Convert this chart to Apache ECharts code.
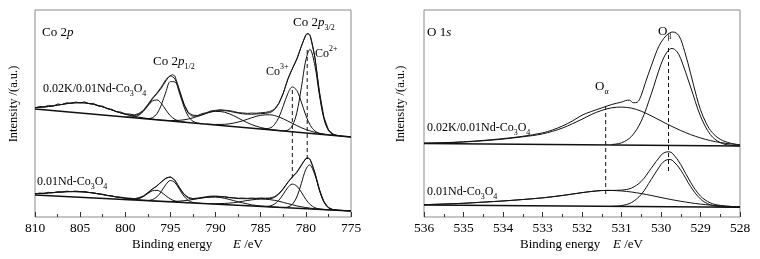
<!DOCTYPE html>
<html><head><meta charset="utf-8">
<script src="https://cdn.jsdelivr.net/npm/echarts@6/dist/echarts.min.js"></script>
<style>html,body{margin:0;padding:0;background:#fff}#c{width:760px;height:259px}</style>
</head><body><div id="c"></div>
<script>
// ---------- Co 2p panel : x ticks ----------
const coTicks = [810, 805, 800, 795, 790, 785, 780, 775];
const oTicks = [536, 535, 534, 533, 532, 531, 530, 529, 528];

// top spectrum 0.02K/0.01Nd-Co3O4 (Co 2p)
const coTopBg = [[810,108],[775,80]];
const coTopRaw = [[810,109.0],[809.5,110.6],[809,110.2],[808.5,111.6],[808,110.9],[807.5,113.0],[807,112.4],[806.5,114.3],[806,113.6],[805.5,115.0],[805,114.0],[804.5,115.2],[804,113.2],[803.5,113.6],[803,110.9],[802.5,111.0],[802,108.2],[801.5,107.8],[801,105.3],[800.5,105.0],[800,103.2],[799.5,103.0],[799,102.1],[798.5,103.6],[798,106.6],[797.5,112.5],[797,118.8],[796.5,124.0],[796,130.2],[795.5,137.5],[795,141.5],[794.75,142.3],[794.5,141.0],[794,127.0],[793.5,113.0],[793,104.2],[792.5,101.8],[792,101.5],[791.5,103.4],[791,104.4],[790.5,106.1],[790,106.6],[789.5,107.4],[789,106.8],[788.5,106.4],[788,105.6],[787.5,104.4],[787,104.1],[786.5,103.6],[786,103.9],[785.5,103.8],[785,104.3],[784.5,104.6],[784,105.5],[783.5,107.6],[783,113.6],[782.5,124],[782,137.9],[781.5,148.4],[781,158.2],[780.5,170.8],[780,182.3],[779.75,183.6],[779.5,180.9],[779,159.8],[778.5,125.4],[778,99.9],[777.5,87.4],[777,82.9],[776.5,81.6],[776,80.9],[775.5,80.6],[775,80.2]];
const coTopFit = [[810,109.4],[809,110.0],[808,111.1],[807,112.6],[806,113.9],[805,114.3],[804,113.5],[803,111.5],[802,108.6],[801,105.5],[800,102.8],[799,101.6],[798.5,102.8],[798,106.3],[797.5,111.9],[797,118],[796.5,123.3],[796,129],[795.5,136.1],[795,141.1],[794.5,137.9],[794,126.1],[793.5,112.7],[793,104],[792.5,100.9],[792,101],[791,103.9],[790,106.2],[789,106.3],[788,104.8],[787,103.2],[786,102.8],[785,103.3],[784,104.4],[783.5,107.2],[783,113.4],[782.5,123.8],[782,137.6],[781.5,148.2],[781,157.8],[780.5,170.4],[780,182],[779.75,183.3],[779.5,180.6],[779,159.2],[778.5,124.8],[778,99.4],[777.5,87],[777,82.8],[776,80.8],[775,80]];
const coTopSatA = [[810,109.4],[809,110.0],[808,111.1],[807,112.6],[806,113.9],[805,114.3],[804,113.5],[803,111.5],[802,108.6],[801,105.5],[800,102.8],[799,100.6],[798,99.1],[797,97.9],[796,96.9]];
const coTopP12b = [[800,100],[799,100.2],[798.5,101.8],[798,105.6],[797.5,111.1],[797,116],[796.5,117.1],[796,113.4],[795.5,107],[795,101.2],[794.5,97.6],[794,95.8],[793.5,94.9],[793,94.4]];
const coTopP12a = [[798.5,98.8],[798,98.45],[797.5,98.4],[797,99.3],[796.5,103.2],[796,112.2],[795.5,125.2],[795,135.4],[794.5,135],[794,124],[793.5,110.2],[793,100.4],[792.5,95.7],[792,94],[791.5,93.2]];
const coTopSatB = [[796,96.9],[795,96.5],[794,96.7],[793,98],[792,100.6],[791,103.7],[790,105.6],[789,104.8],[788,101.3],[787,96.6],[786,92.4],[785,89.5],[784,87.7],[783,86.6]];
const coTopSatC = [[791,92.97],[790,92.55],[789,92.7],[788,93.9],[787,96.2],[786,99.2],[785,101.7],[784,102.2],[783,100.1],[782,96],[781,91.4],[780,87.5],[779,84.7],[778,82.95],[777,81.8]];
const coTopCo3 = [[785,88.1],[784,88.9],[783.5,92.2],[783,99.5],[782.5,111.1],[782,123.4],[781.5,130],[781,126.5],[780.5,114.9],[780,101.5],[779.5,91.5],[779,86],[778.5,83.6],[778,82.6]];
const coTopCo2 = [[783,86.4],[782.5,86.2],[782,86.9],[781.5,91.2],[781,104.4],[780.5,129.3],[780,157],[779.55,167.6],[779,151.3],[778.5,121.9],[778,98.3],[777.5,86.6],[777,82.5],[776.5,81.3]];

// bottom spectrum 0.01Nd-Co3O4 (Co 2p)
const coBotBg = [[810,22],[775,6]];
const coBotRaw = [[810,23.0],[809.5,24.0],[809,23.5],[808.5,24.6],[808,24.2],[807.5,25.4],[807,24.9],[806.5,25.9],[806,25.3],[805.5,26.0],[805,25.4],[804.5,25.6],[804,24.5],[803.5,24.3],[803,23.0],[802.5,22.8],[802,21.4],[801.5,21.3],[801,20.0],[800.5,19.9],[800,19.0],[799.5,18.9],[799,18.3],[798.5,19.3],[798,21.0],[797.5,24.5],[797,28.2],[796.5,31.0],[796,35.3],[795.5,38.9],[795,40.2],[794.5,36.8],[794,29.4],[793.5,22.9],[793,19.6],[792.5,18.4],[792,19.0],[791.5,19.6],[791,20.4],[790.5,20.9],[790,21.0],[789.5,20.6],[789,20.5],[788.5,19.6],[788,19.4],[787.5,18.8],[787,19.0],[786.5,18.6],[786,19.0],[785.5,18.7],[785,19.1],[784.5,18.8],[784,19.0],[783.5,20.2],[783,23.4],[782.5,28.5],[782,34.8],[781.5,40.3],[781,45.0],[780.5,52.0],[780,58.6],[779.75,59.2],[779.5,57.3],[779,44.5],[778.5,27.7],[778,15.4],[777.5,9.5],[777,7.5],[776.5,6.9],[776,6.6],[775.5,6.2],[775,6.0]];
const coBotFit = [[810,23.3],[809,23.7],[808,24.4],[807,25],[806,25.4],[805,25.2],[804,24.5],[803,23.2],[802,21.6],[801,20.1],[800,18.8],[799,18.2],[798.5,18.9],[798,20.8],[797.5,24],[797,27.7],[796.5,31.2],[796,34.9],[795.5,38.6],[795,39.8],[794.5,36.3],[794,29.1],[793.5,22.7],[793,19],[792.5,18.1],[792,18.4],[791,19.8],[790,20.4],[789,19.9],[788,18.8],[787,18.3],[786,18.3],[785,18.4],[784,18.4],[783.5,19.6],[783,22.9],[782.5,28.1],[782,34.4],[781.5,39.8],[781,44.6],[780.5,51.6],[780,58.2],[779.75,58.7],[779.5,56.8],[779,44.1],[778.5,27.3],[778,15.1],[777.5,9.3],[777,7.4],[776,6.5],[775,6]];
const coBotSatA = [[810,23.3],[809,23.7],[808,24.4],[807,25],[806,25.4],[805,25.2],[804,24.5],[803,23.2],[802,21.6],[801,20.1],[800,18.8],[799,17.7],[798,16.85],[797,16.2],[796,15.66]];
const coBotP12b = [[800,17.43],[799,17.5],[798.5,18.4],[798,20.45],[797.5,23.5],[797,26.2],[796.5,26.7],[796,24.7],[795.5,21.2],[795,18.0],[794.5,16.0],[794,15.0],[793.5,14.5],[793,14.23]];
const coBotP12a = [[798,16.56],[797.5,16.6],[797,17.4],[796.5,20.1],[796,25.6],[795.5,32.5],[795,36.5],[794.5,34.4],[794,27.6],[793.5,20.8],[793,16.4],[792.5,14.6],[792,13.9],[791.5,13.55]];
const coBotSatB = [[796,15.7],[795,15.6],[794,15.9],[793,16.8],[792,18.3],[791,19.6],[790,19.9],[789,18.7],[788,16.4],[787,14.1],[786,12.2],[785,11.0],[784,10.2],[783,9.7]];
const coBotSatC = [[791,13.5],[790,13.3],[789,13.6],[788,14.3],[787,15.7],[786,17.1],[785,17.9],[784.5,17.8],[784,17.4],[783.5,16.7],[783,15.8],[782.5,14.6],[782,13.4],[781.5,12.3],[781,11.1],[780.5,10.2],[780,9.5],[779.5,8.8],[779,8.3],[778.5,7.9],[778,7.5],[777,6.95]];
const coBotCo3 = [[785,10.6],[784,11.0],[783.5,12.8],[783,16.7],[782.5,22.8],[782,29.4],[781.5,32.9],[781,30.9],[780.5,24.8],[780,17.6],[779.5,12.3],[779,9.3],[778.5,8.0],[778,7.5]];
const coBotCo2 = [[782.5,9.56],[782,10.0],[781.5,12.6],[781,20.0],[780.5,33.6],[780,47.7],[779.6,52.1],[779,42.1],[778.5,26.6],[778,14.9],[777.5,9.2],[777,7.3],[776.5,6.75]];
const coDashCo3 = [[781.5,127],[781.5,39]];
const coDashCo2 = [[779.85,167],[779.85,55]];

// ---------- O 1s panel ----------
const oTopBg = [[536,73.5],[528,71]];
const oTopFit = [[536,73.8],[535.5,74.3],[535,75.2],[534.5,76.6],[534,78.4],[533.5,80.7],[533,84.1],[532.75,87.0],[532.5,90.9],[532.25,95.8],[532,101.8],[531.75,105.7],[531.5,109.1],[531.25,112.5],[531,114.9],[530.9,116.4],[530.8,116.8],[530.7,114.3],[530.6,114.8],[530.5,121.8],[530.4,133.7],[530.25,150.7],[530.1,166.7],[530,174.6],[529.85,182.1],[529.7,185.0],[529.55,181.5],[529.4,165.4],[529.25,143.4],[529.1,120.4],[529,107.3],[528.85,93.3],[528.7,84.2],[528.5,77.7],[528.25,73.9],[528,72.2]];
const oTopAlpha = [[536,73.8],[535.5,74.2],[535,75.0],[534.5,76.2],[534,77.9],[533.5,80.2],[533,83.1],[532.5,88.9],[532,97.8],[531.75,102.7],[531.5,106.6],[531.25,109.2],[531,109.9],[530.75,108.9],[530.5,105.8],[530.25,101.2],[530,96.1],[529.75,91.1],[529.5,86.5],[529.25,82.4],[529,79.1],[528.75,76.4],[528.5,74.5],[528.25,73.1],[528,72.2]];
const oTopBeta = [[531.25,72.5],[531,74.2],[530.75,80.5],[530.5,95.9],[530.25,122.7],[530,152.7],[529.85,164.9],[529.72,168.6],[529.6,165.5],[529.5,158.3],[529.25,129.9],[529,100.9],[528.75,82.4],[528.5,74.4],[528.25,71.8],[528,71.0]];
const oBotBg = [[536,12],[528,9.7]];
const oBotFit = [[536,12.3],[535.5,12.96],[535,13.71],[534.5,14.87],[534,16.03],[533.5,17.48],[533,19.14],[532.5,21.49],[532,24.35],[531.75,25.58],[531.5,26.5],[531.25,26.6],[531,26.9],[530.75,28.9],[530.5,35.6],[530.25,48.55],[530,61.8],[529.9,64.6],[529.8,65.2],[529.7,63.2],[529.5,52.5],[529.25,34.6],[529,20.9],[528.75,14.1],[528.5,11.6],[528.25,10.6],[528,10.2]];
const oBotAlpha = [[536,12.3],[535.5,12.96],[535,13.71],[534.5,14.87],[534,16.03],[533.5,17.48],[533,19.14],[532.5,21.49],[532,24.35],[531.75,25.58],[531.5,26.41],[531.35,26.67],[531.25,26.53],[531,26.06],[530.75,24.99],[530.5,23.42],[530.25,21.55],[530,19.48],[529.75,17.5],[529.5,15.73],[529.25,14.16],[529,12.89],[528.75,11.92],[528.5,11.14],[528.25,10.57],[528,10.2]];
const oBotBeta = [[531.25,10.7],[531,11.43],[530.75,14.39],[530.5,22.62],[530.25,37.35],[530,52.58],[529.9,56.3],[529.8,57.55],[529.7,56.25],[529.5,46.93],[529.25,30.46],[529,17.99],[528.75,12.12],[528.5,10.28],[528.25,9.83],[528,9.7]];
const oDashAlpha = [[531.4,111],[531.4,20]];
const oDashBeta = [[529.81,169],[529.81,45]];

// ---------- build ----------
const FONT = 'Liberation Serif';
const INK = '#111';
function line(data, idx, opt) {
  opt = opt || {};
  return {
    type: 'line', xAxisIndex: idx, yAxisIndex: idx, data: data,
    symbol: 'none', silent: true, animation: false,
    smooth: opt.smooth === undefined ? 0.35 : opt.smooth,
    lineStyle: { color: INK, width: opt.width || 1, type: opt.dash ? [4, 3] : 'solid' },
    z: opt.z || 2
  };
}
const series = [];
[coTopSatA, coTopP12b, coTopP12a, coTopSatB, coTopSatC, coTopCo3, coTopCo2,
 coBotSatA, coBotP12b, coBotP12a, coBotSatB, coBotSatC, coBotCo3, coBotCo2].forEach(d => series.push(line(d, 0)));
series.push(line(coTopFit, 0, {width: 1}));
series.push(line(coBotFit, 0, {width: 1}));
series.push(line(coTopRaw, 0, {smooth: false, width: 0.9}));
series.push(line(coBotRaw, 0, {smooth: false, width: 0.9}));
series.push(line(coTopBg, 0, {smooth: false, width: 1.6}));
series.push(line(coBotBg, 0, {smooth: false, width: 1.6}));
series.push(line(coDashCo3, 0, {smooth: false, dash: true, width: 1}));
series.push(line(coDashCo2, 0, {smooth: false, dash: true, width: 1}));
[oTopFit, oTopAlpha, oTopBeta, oBotFit, oBotAlpha, oBotBeta].forEach(d => series.push(line(d, 1)));
series.push(line(oTopBg, 1, {smooth: false, width: 1.4}));
series.push(line(oBotBg, 1, {smooth: false, width: 1.4}));
series.push(line(oDashAlpha, 1, {smooth: false, dash: true}));
series.push(line(oDashBeta, 1, {smooth: false, dash: true}));

function xAxis(idx, min, max, interval) {
  return {
    type: 'value', gridIndex: idx, min: min, max: max, interval: interval, inverse: true,
    axisLine: { show: false },
    axisTick: { show: true, inside: true, length: 5, lineStyle: { color: '#333', width: 1 } },
    minorTick: { show: true, splitNumber: 2, length: 3, lineStyle: { color: '#333', width: 1 } },
    splitLine: { show: false }, minorSplitLine: { show: false },
    axisLabel: { fontFamily: FONT, fontSize: 13.5, color: '#000', margin: 4,
      formatter: v => String(v), showMinLabel: true, showMaxLabel: true }
  };
}
function yAxis(idx) {
  return { type: 'value', gridIndex: idx, min: 0, max: 207, show: true,
    axisLine: { show: false }, axisTick: { show: false }, axisLabel: { show: false }, splitLine: { show: false } };
}

const RICH = {
  n: { fontFamily: FONT, fontSize: 13, lineHeight: 18, verticalAlign: 'middle', fill: '#000' },
  i: { fontFamily: FONT, fontSize: 13, fontStyle: 'italic', lineHeight: 18, verticalAlign: 'middle', fill: '#000' },
  m: { fontFamily: FONT, fontSize: 12, lineHeight: 18, verticalAlign: 'middle', fill: '#000' },
  b: { fontFamily: FONT, fontSize: 8, verticalAlign: 'bottom', fill: '#000' },
  t: { fontFamily: FONT, fontSize: 8, verticalAlign: 'top', fill: '#000' }
};
function txt(x, y, text, extra) {
  return Object.assign({ type: 'text', x: x, y: y, silent: true,
    style: { text: text, rich: RICH, align: 'left', verticalAlign: 'middle', fill: '#000', font: '13px ' + FONT } }, extra || {});
}
const graphics = [
  txt(42, 33, '{n|Co 2}{i|p}'),
  txt(153, 62, '{n|Co 2}{i|p}{b|1/2}'),
  txt(293, 23, '{n|Co 2}{i|p}{b|3/2}'),
  txt(266, 72, '{m|Co}{t|3+}'),
  txt(315, 54, '{m|Co}{t|2+}'),
  txt(43, 89, '{m|0.02K/0.01Nd-Co}{b|3}{m|O}{b|4}'),
  txt(37, 182, '{m|0.01Nd-Co}{b|3}{m|O}{b|4}'),
  txt(427, 33, '{n|O 1}{i|s}'),
  txt(658, 32, '{n|O}{b|β}'),
  txt(595, 87, '{n|O}{b|α}'),
  txt(427, 128, '{m|0.02K/0.01Nd-Co}{b|3}{m|O}{b|4}'),
  txt(427, 192, '{m|0.01Nd-Co}{b|3}{m|O}{b|4}'),
  txt(132, 245, '{n|Binding energy}'),
  txt(233, 245, '{i|E}{n| /eV}'),
  txt(520, 245, '{n|Binding energy}'),
  txt(613, 245, '{i|E}{n| /eV}'),
  { type: 'text', x: 14, y: 104, rotation: Math.PI / 2, silent: true,
    style: { text: 'Intensity /(a.u.)', font: '12.5px ' + FONT, fill: '#000', align: 'center', verticalAlign: 'middle' } },
  { type: 'text', x: 401, y: 104, rotation: Math.PI / 2, silent: true,
    style: { text: 'Intensity /(a.u.)', font: '12.5px ' + FONT, fill: '#000', align: 'center', verticalAlign: 'middle' } }
];

const chart = echarts.init(document.getElementById('c'), null, { renderer: 'canvas', width: 760, height: 259 });
chart.setOption({
  backgroundColor: '#fff',
  animation: false,
  grid: [
    { left: 35, top: 10, width: 316, height: 207, show: true, borderColor: '#8a8a8a', borderWidth: 1, backgroundColor: 'transparent' },
    { left: 424, top: 10, width: 316, height: 207, show: true, borderColor: '#8a8a8a', borderWidth: 1, backgroundColor: 'transparent' }
  ],
  xAxis: [xAxis(0, 775, 810, 5), xAxis(1, 528, 536, 1)],
  yAxis: [yAxis(0), yAxis(1)],
  series: series,
  graphic: graphics
});
</script></body></html>
